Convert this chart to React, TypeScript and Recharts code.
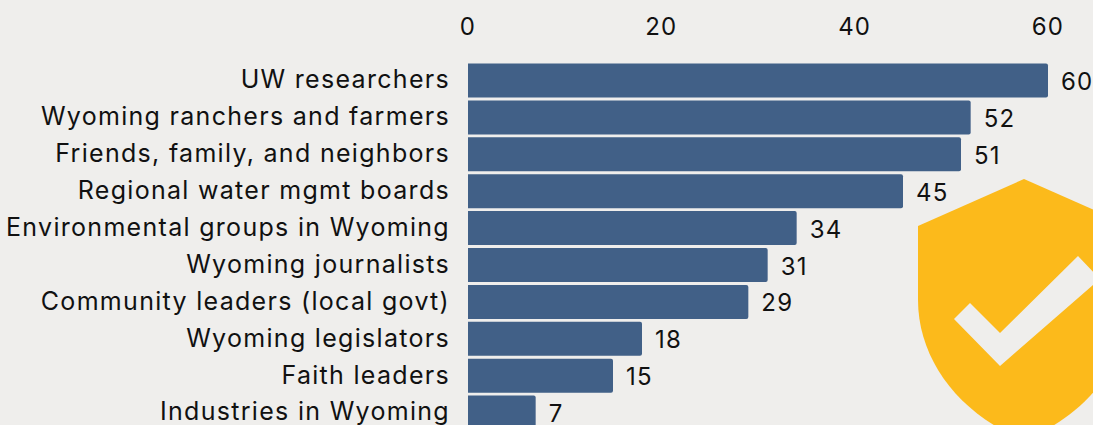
import { BarChart, Bar, XAxis, YAxis, LabelList } from "recharts";

const groups = [
  "UW researchers",
  "Wyoming ranchers and farmers",
  "Friends, family, and neighbors",
  "Regional water mgmt boards",
  "Environmental groups in Wyoming",
  "Wyoming journalists",
  "Community leaders (local govt)",
  "Wyoming legislators",
  "Faith leaders",
  "Industries in Wyoming",
];
const counts = [60, 52, 51, 45, 34, 31, 29, 18, 15, 7];
const xTicks = [0, 20, 40, 60];

const data = groups.map((group, i) => ({ group, count: counts[i] }));

const FONT = "Inter, sans-serif";

export default function App() {
  return (
    <div
      style={{
        position: "fixed",
        left: 0,
        top: 0,
        width: 1093,
        height: 425,
        overflow: "hidden",
        background: "#efeeec",
        fontFamily: FONT,
      }}
    >
      <BarChart
        layout="vertical"
        width={1093}
        height={444}
        data={data}
        barCategoryGap={1.5}
        margin={{ top: 32, right: 45, bottom: 13, left: 0 }}
      >
        <XAxis
          type="number"
          orientation="top"
          domain={[0, 60]}
          ticks={xTicks}
          axisLine={false}
          tickLine={false}
          tickMargin={21}
          height={30}
          tick={{ fill: "#111", fontSize: 24, letterSpacing: 1.2 }}
        />
        <YAxis
          type="category"
          dataKey="group"
          width={468}
          interval={0}
          axisLine={false}
          tickLine={false}
          tickMargin={12}
          tick={{ fill: "#111", fontSize: 25, letterSpacing: 1.3, dy: -1 }}
        />
        <Bar dataKey="count" fill="#416087" radius={[0, 2, 2, 0]} isAnimationActive={false}>
          <LabelList
            dataKey="count"
            position="right"
            offset={13}
            dy={1}
            fill="#111"
            fontSize={24}
            letterSpacing={1.2}
          />
        </Bar>
      </BarChart>
      <svg width={1093} height={425} style={{ position: "absolute", left: 0, top: 0 }}>
        <path
          d="M1024 179 L1130 226 V300 C1130 360 1088 415 1024 440 C960 415 918 360 918 300 V226 Z"
          fill="#fcba1b"
        />
        <path
          d="M954 319 L970 303 L1000 333 L1078 256 L1100 279 L1000 366 Z"
          fill="#efeeec"
        />
      </svg>
    </div>
  );
}
